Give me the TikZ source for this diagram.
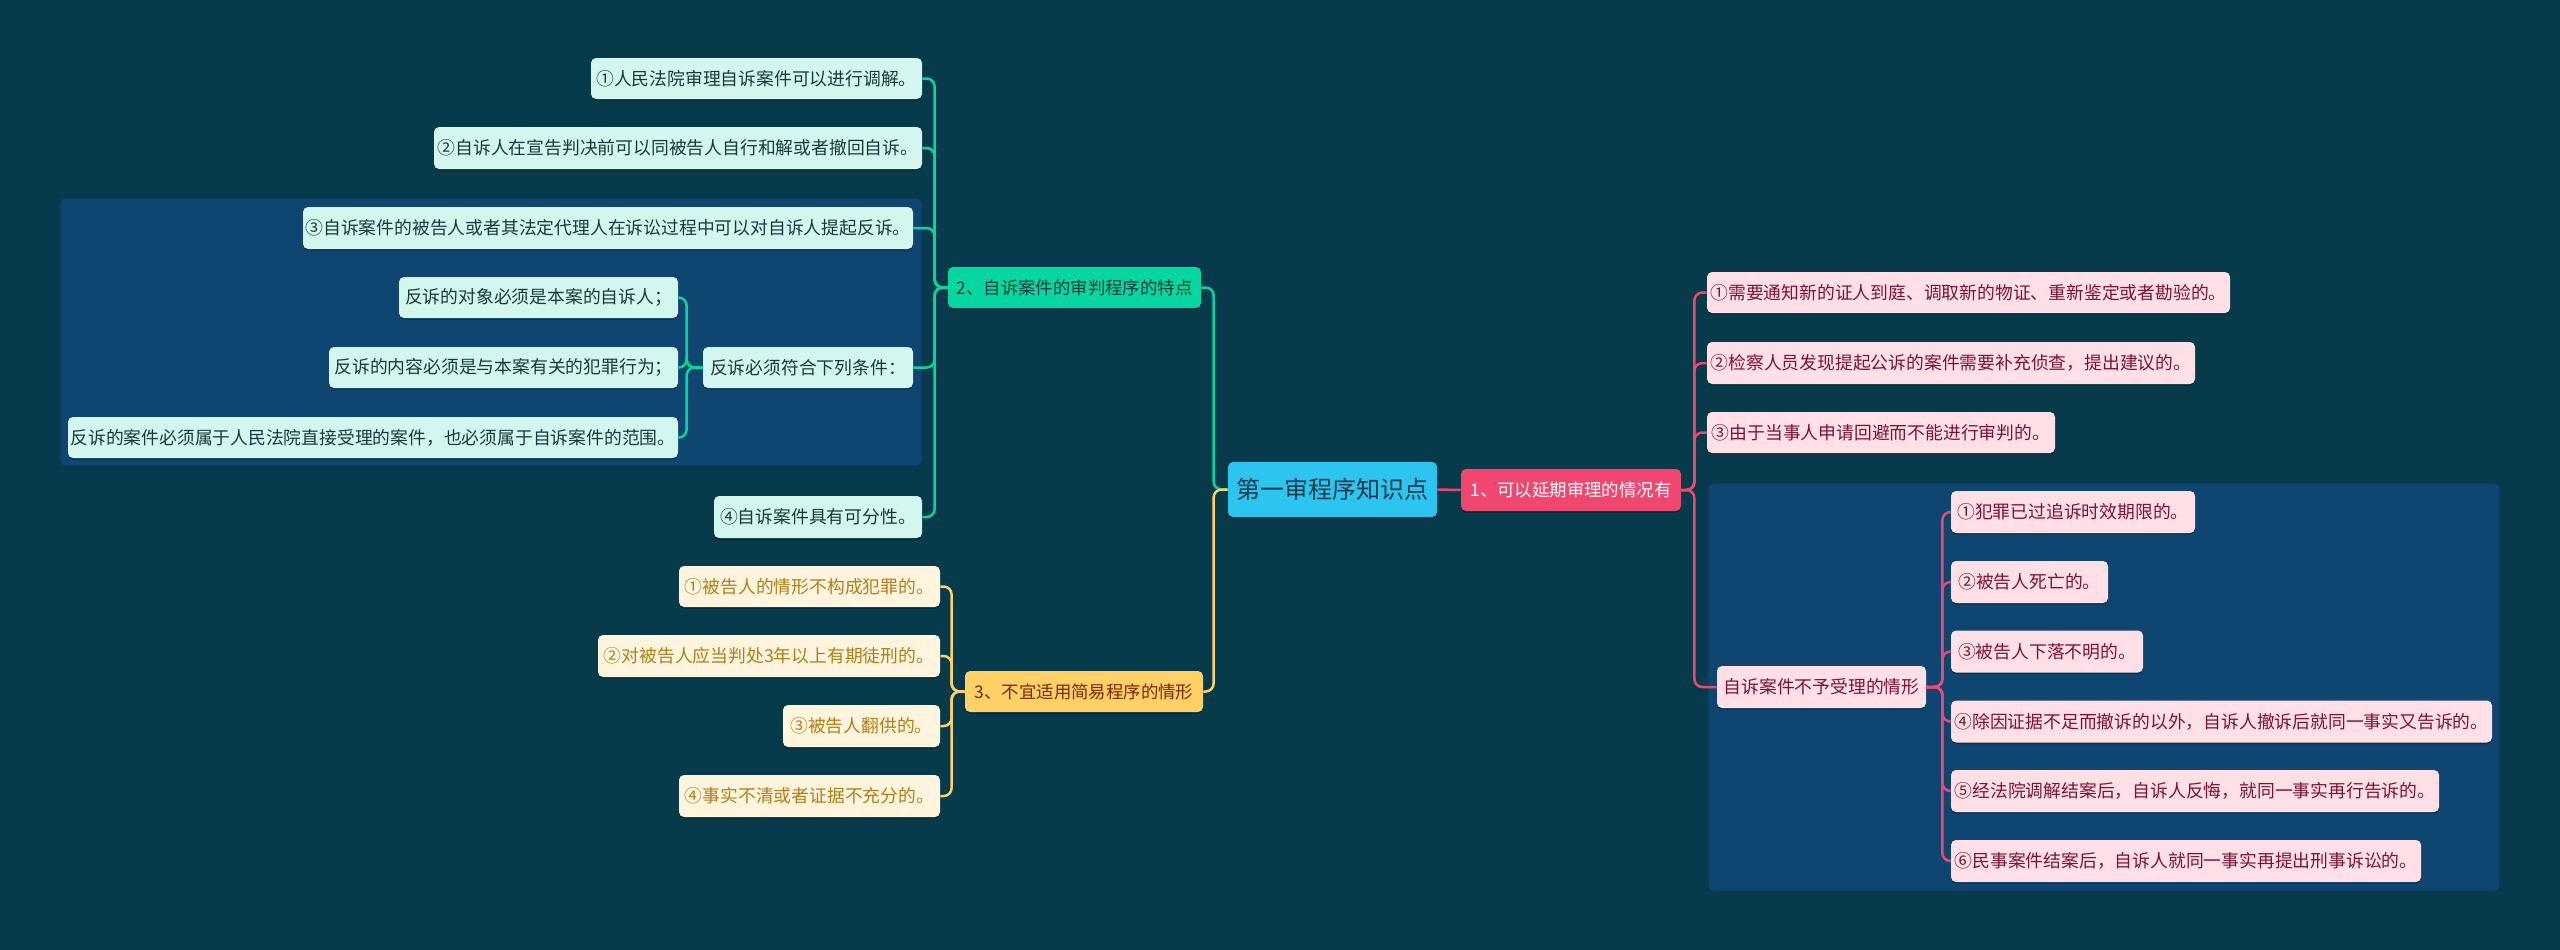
\documentclass[tikz,border=0pt]{standalone}
\usepackage{fontspec}
\setmainfont{Noto Sans CJK SC}
\usetikzlibrary{shadows}
\definecolor{bgc}{HTML}{073B4C}
\definecolor{grpc}{HTML}{0F4571}
\definecolor{grpb}{HTML}{0B3A5E}
\definecolor{rootc}{HTML}{2EC4F0}
\definecolor{roott}{HTML}{123A4A}
\definecolor{pkc}{HTML}{EF476F}
\definecolor{pkf}{HTML}{FFE0E7}
\definecolor{pkt}{HTML}{7B1232}
\definecolor{gnc}{HTML}{06D6A0}
\definecolor{gnf}{HTML}{D3F7EE}
\definecolor{gnt}{HTML}{173B3C}
\definecolor{ywc}{HTML}{FFD166}
\definecolor{ywf}{HTML}{FFF5DF}
\definecolor{ywt}{HTML}{B07F14}
\definecolor{ywbt}{HTML}{7A2608}
\tikzset{
  sz/.style 2 args={minimum width=#1*0.5pt, minimum height=#2*0.5pt},
  base/.style={rounded corners=2.5pt, inner sep=0pt, font=\fontsize{8.9}{10}\selectfont,
    drop shadow={shadow xshift=0pt, shadow yshift=-0.8pt, opacity=0.3, fill=black}},
  rootbox/.style={base, fill=rootc, text=roott, font=\fontsize{12}{14}\selectfont},
  mainfont/.style={font=\fontsize{8.7}{10}\selectfont},
  pkmain/.style={base, mainfont, fill=pkc, text=white},
  pkbox/.style={base, fill=pkf, text=pkt},
  gnmain/.style={base, mainfont, fill=gnc, text=gnt},
  gnbox/.style={base, fill=gnf, text=gnt},
  ywmain/.style={base, mainfont, fill=ywc, text=ywbt},
  ywbox/.style={base, fill=ywf, text=ywt},
  grp/.style={fill=grpc, draw=grpb, line width=0.6pt, rounded corners=2.5pt},
  conn/.style={line width=1.25pt, rounded corners=4pt},
  pkl/.style={conn, draw=pkc},
  gnl/.style={conn, draw=gnc},
  ywl/.style={conn, draw=ywc},
}
\begin{document}
\begin{tikzpicture}[x=0.5pt, y=-0.5pt]
\useasboundingbox (0,0) rectangle (2560,949);
\fill[bgc] (-10,-10) rectangle (2570,959);
% group backgrounds
\draw[grp] (60,198) rectangle (922,466);
\draw[grp] (1708,483) rectangle (2500,891);
% root and branches
\node[rootbox, sz={209}{55}] (root) at (1332.5,489.5) {第一审程序知识点};
\node[pkmain, sz={220}{42}] (b1) at (1571,490) {1、可以延期审理的情况有};
\node[gnmain, sz={253}{41}] (b2) at (1074.5,287.5) {2、自诉案件的审判程序的特点};
\node[ywmain, sz={238}{41}] (b3) at (1084,691.5) {3、不宜适用简易程序的情形};
% pink children
\node[pkbox, sz={523}{41}] (p1) at (1968.5,292.5) {①需要通知新的证人到庭、调取新的物证、重新鉴定或者勘验的。};
\node[pkbox, sz={488}{42}] (p2) at (1951,363) {②检察人员发现提起公诉的案件需要补充侦查，提出建议的。};
\node[pkbox, sz={348}{41}] (p3) at (1881,432.5) {③由于当事人申请回避而不能进行审判的。};
\node[pkbox, sz={209}{42}] (pz) at (1821.5,687) {自诉案件不予受理的情形};
\node[pkbox, sz={244}{42}] (ps1) at (2073,512) {①犯罪已过追诉时效期限的。};
\node[pkbox, sz={157}{42}] (ps2) at (2029.5,582) {②被告人死亡的。};
\node[pkbox, sz={192}{42}] (ps3) at (2047,651.5) {③被告人下落不明的。};
\node[pkbox, sz={541}{42}] (ps4) at (2221.5,721.5) {④除因证据不足而撤诉的以外，自诉人撤诉后就同一事实又告诉的。};
\node[pkbox, sz={488}{42}] (ps5) at (2195,791) {⑤经法院调解结案后，自诉人反悔，就同一事实再行告诉的。};
\node[pkbox, sz={470}{42}] (ps6) at (2186,861) {⑥民事案件结案后，自诉人就同一事实再提出刑事诉讼的。};
% green children
\node[gnbox, sz={331}{41}] (g1) at (756.5,78.5) {①人民法院审理自诉案件可以进行调解。};
\node[gnbox, sz={488}{42}] (g2) at (678,148) {②自诉人在宣告判决前可以同被告人自行和解或者撤回自诉。};
\node[gnbox, sz={610}{42}] (g3) at (608,228) {③自诉案件的被告人或者其法定代理人在诉讼过程中可以对自诉人提起反诉。};
\node[gnbox, sz={210}{41}] (gf) at (808,367.5) {反诉必须符合下列条件：};
\node[gnbox, sz={279}{41}] (gs1) at (538.5,297.5) {反诉的对象必须是本案的自诉人；};
\node[gnbox, sz={349}{41}] (gs2) at (503.5,367.5) {反诉的内容必须是与本案有关的犯罪行为；};
\node[gnbox, sz={610}{41}] (gs3) at (373,437.5) {反诉的案件必须属于人民法院直接受理的案件，也必须属于自诉案件的范围。};
\node[gnbox, sz={208}{42}] (g4) at (818,517) {④自诉案件具有可分性。};
% yellow children
\node[ywbox, sz={261}{41}] (y1) at (809.5,586.5) {①被告人的情形不构成犯罪的。};
\node[ywbox, sz={342}{42}] (y2) at (769,656) {②对被告人应当判处3年以上有期徒刑的。};
\node[ywbox, sz={157}{42}] (y3) at (861.5,726) {③被告人翻供的。};
\node[ywbox, sz={261}{42}] (y4) at (809.5,796) {④事实不清或者证据不充分的。};
% connectors
\draw[pkl] (root.east) -- (b1.west);
\foreach \c in {p1,p2,p3,pz} \draw[pkl] (b1.east) -- ++(13,0) |- (\c.west);
\foreach \c in {ps1,ps2,ps3,ps4,ps5,ps6} \draw[pkl] (pz.east) -- ++(16,0) |- (\c.west);
\draw[gnl] (root.west) -- ++(-14,0) |- (b2.east);
\draw[ywl] (root.west) -- ++(-14,0) |- (b3.east);
\foreach \c in {g1,g2,g3,gf,g4} \draw[gnl] (b2.west) -- ++(-13,0) |- (\c.east);
\foreach \c in {gs1,gs2,gs3} \draw[gnl] (gf.west) -- ++(-16,0) |- (\c.east);
\foreach \c in {y1,y2,y3,y4} \draw[ywl] (b3.west) -- ++(-13,0) |- (\c.east);
\end{tikzpicture}
\end{document}
